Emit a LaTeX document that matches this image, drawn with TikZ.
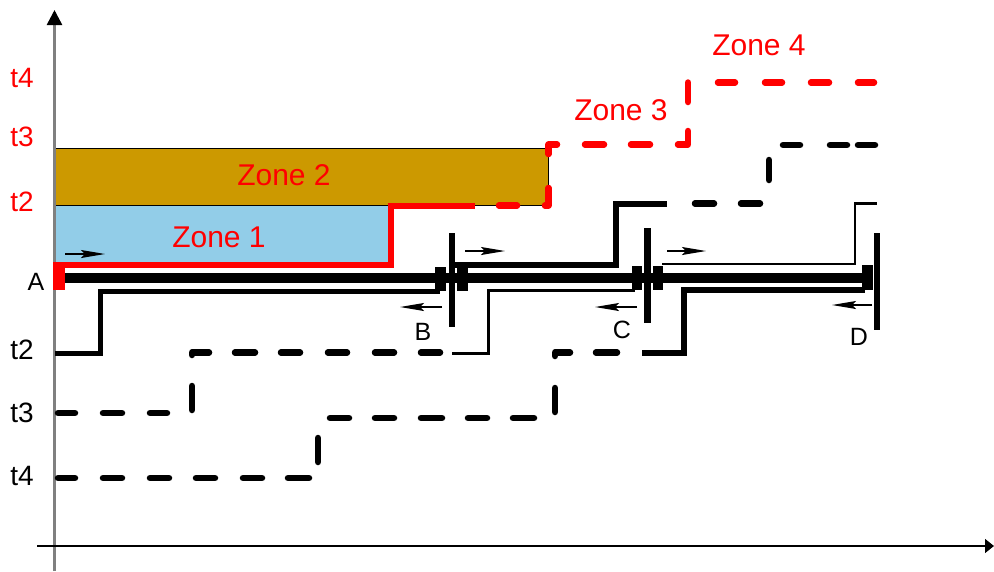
\documentclass[tikz,border=0pt]{standalone}
\usepackage{fontspec}
\setmainfont{Liberation Sans}
\usetikzlibrary{arrows.meta}
\definecolor{zred}{RGB}{255,0,0}
\definecolor{zgold}{RGB}{204,153,0}
\definecolor{zblue}{RGB}{146,205,232}
\definecolor{axgray}{RGB}{128,128,128}
\begin{document}
\begin{tikzpicture}[x=1pt,y=-1pt,
  redlbl/.style={text=zred,font=\fontsize{28}{28}\selectfont,inner sep=0pt},
  blklbl/.style={text=black,font=\fontsize{28}{28}\selectfont,inner sep=0pt},
  zonelbl/.style={text=zred,font=\fontsize{30}{30}\selectfont,inner sep=0pt},
  ptlbl/.style={text=black,font=\fontsize{25}{25}\selectfont,inner sep=0pt},
  blkdash/.style={line width=6.5pt,line cap=round,line join=round},
  reddash/.style={zred,line width=6.5pt,line cap=round,line join=round},
  arr/.style={line width=1.6pt,-{Stealth[length=24pt,width=8pt,inset=4pt]}},
  brk/.style={fill=black}
]
\useasboundingbox (0,0) rectangle (994,571);

% zone rectangles
\filldraw[fill=zgold,draw=black,line width=1pt] (55,148.5) rectangle (548.5,205.5);
\filldraw[fill=zblue,draw=black,line width=1pt] (55,205.5) rectangle (390,264);

% axes
\draw[axgray,line width=2.5pt,-{Triangle[length=15pt,width=15pt,color=black]}] (54.5,571) -- (54.5,10);
\draw[line width=1.5pt,-{Triangle[length=9pt,width=14pt]}] (37,546) -- (994,546);

% red zone line
\fill[zred] (53,262) rectangle (65,290);
\draw[zred,line width=6pt] (55,264.5) -- (390.5,264.5) -- (390.5,205.5) -- (475,205.5);
\draw[reddash] (499,205.5)--(517,205.5)
  (545,205.5)--(548.5,205.5)--(548.5,188)
  (548.5,154)--(548.5,144.5)--(557,144.5)
  (585,144.5)--(604,144.5) (631,144.5)--(650,144.5)
  (678,144.5)--(688,144.5)--(688,131)
  (688,102)--(688,82.5)
  (718,82.5)--(735,82.5) (765,82.5)--(782,82.5) (811,82.5)--(829,82.5) (858,82.5)--(874,82.5);

% bus
\draw[line width=10pt] (65,278) -- (873,278);

% t2 signal (solid, A)
\draw[line width=5pt] (55,353) -- (100,353) -- (100,291) -- (440,291);
% t3 signal (dashed)
\draw[blkdash] (58,413)--(75,413) (103,413)--(122,413) (150,413)--(167,413)
  (192,386)--(192,410)
  (192,355)--(192,352.5)--(209,352.5)
  (235,352.5)--(255,352.5) (281,352.5)--(300,352.5) (328,352.5)--(347,352.5)
  (375,352.5)--(394,352.5) (421,352.5)--(440,352.5);
% t4 signal (dashed)
\draw[blkdash] (58,478)--(75,478) (103,478)--(122,478) (150,478)--(169,478)
  (196,478)--(215,478) (243,478)--(262,478) (288,478)--(309,478)
  (318,438)--(318,462)
  (330,418)--(349,418) (375,418)--(394,418) (421,418)--(442,418)
  (468,418)--(487,418) (513,418)--(534,418)
  (555,388)--(555,412)
  (555,356)--(555,352.5)--(570,352.5)
  (596,352.5)--(617,352.5);

% B-C upper line
\draw[line width=6pt] (454,264.5) -- (616,264.5) -- (616,203.5) -- (667,203.5);
\draw[blkdash] (695,203.5)--(714,203.5) (741,203.5)--(760,203.5)
  (769,160)--(769,180)
  (783,145)--(800,145) (830,145)--(847,145) (858,145)--(875,145);
% B-C lower thin line
\draw[line width=3pt] (452,353) -- (488,353) -- (488,290) -- (635,290);
% C-D upper thin line
\draw[line width=2.5pt] (662,264) -- (855,264) -- (855,203.5) -- (877,203.5);
% C-D lower thick line
\draw[line width=5.5pt] (642,353) -- (684,353) -- (684,290) -- (865,290);

% breakers
\fill[brk] (435,267) rectangle (446,291);
\fill[brk] (457,267) rectangle (468,291);
\fill[brk] (449,233) rectangle (454.5,327);
\fill[brk] (632,266) rectangle (642,290);
\fill[brk] (653,266) rectangle (663,290);
\fill[brk] (644,228) rectangle (650.5,323);
\fill[brk] (862,265) rectangle (873,290);
\fill[brk] (874,233) rectangle (880,330);

% direction arrows
\coordinate (a1s) at (65,254);  \coordinate (a1e) at (105,254);
\coordinate (a2s) at (465,251); \coordinate (a2e) at (505,251);
\coordinate (a3s) at (442,307); \coordinate (a3e) at (400,307);
\coordinate (a4s) at (667,251); \coordinate (a4e) at (706,251);
\coordinate (a5s) at (637,307); \coordinate (a5e) at (595,307);
\coordinate (a6s) at (872,305); \coordinate (a6e) at (832,305);
\draw[arr] (a1s) -- (a1e);
\draw[arr] (a2s) -- (a2e);
\draw[arr] (a3s) -- (a3e);
\draw[arr] (a4s) -- (a4e);
\draw[arr] (a5s) -- (a5e);
\draw[arr] (a6s) -- (a6e);

% labels
\node[redlbl] (rt4) at (22,78) {t4};
\node[redlbl] (rt3) at (22,137) {t3};
\node[redlbl] (rt2) at (22,202) {t2};
\node[blklbl] (bt2) at (22,350) {t2};
\node[blklbl] (bt3) at (22,413) {t3};
\node[blklbl] (bt4) at (22,476) {t4};
\node[ptlbl] (lA) at (36,282) {A};
\node[ptlbl] (lB) at (423,332) {B};
\node[ptlbl] (lC) at (622,330) {C};
\node[ptlbl] (lD) at (859,337) {D};
\node[zonelbl] (z1) at (219,237) {Zone 1};
\node[zonelbl] (z2) at (284,175) {Zone 2};
\node[zonelbl] (z3) at (621,110) {Zone 3};
\node[zonelbl] (z4) at (759,45) {Zone 4};
\end{tikzpicture}
\end{document}
